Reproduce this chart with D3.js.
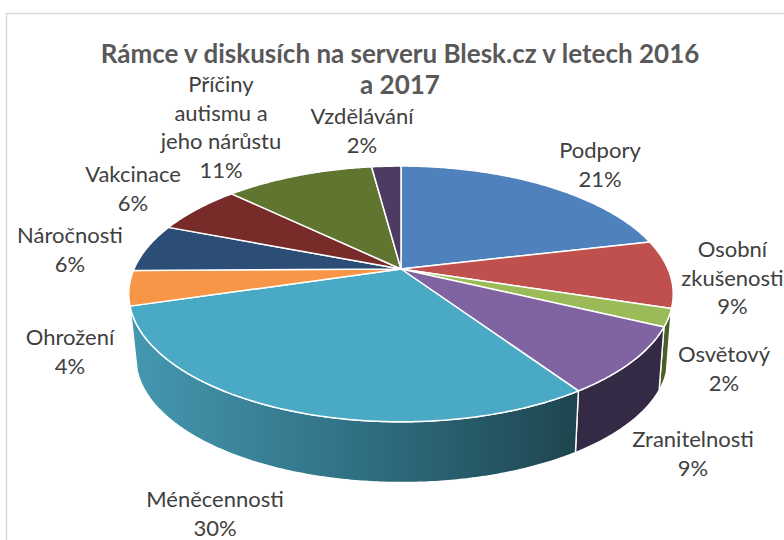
<!DOCTYPE html>
<html>
<head>
<meta charset="utf-8">
<script src="https://cdnjs.cloudflare.com/ajax/libs/d3/7.8.5/d3.min.js"></script>
<style>
html,body{margin:0;padding:0;background:#fff;overflow:hidden}
svg{display:block}
text{font-family:Lato,"Open Sans",sans-serif}
</style>
</head>
<body>
<svg id="chart" width="784" height="540"></svg>
<script>
// Data
const categories = ["Podpory","Osobní zkušenosti","Osvětový","Zranitelnosti","Méněcennosti","Ohrožení","Náročnosti","Vakcinace","Příčiny autismu a jeho nárůstu","Vzdělávání"];
const values = [21.3,8.6,2.2,8.5,29.8,4.4,6.1,6.3,10.7,2.1];
const titleLines = ["Rámce v diskusích na serveru Blesk.cz v letech 2016","a 2017"];

// Styles
const topColors = ["#4f81bd","#c0504d","#9bbb59","#8064a2","#4aa9c4","#f79646","#2c4d75","#772c2a","#5f7530","#4d3b62"];
const wallColors = [null,null,"#4a5f24","#352a45","url(#wallGrad)",null,null,null,null,null];

// Label layout: centre x, first baseline y, wrapped lines
const labelLayout = [
  {x:600,y:158,lines:["Podpory"]},
  {x:732.5,y:257,lines:["Osobní","zkušenosti"]},
  {x:724,y:362,lines:["Osvětový"]},
  {x:693,y:447,lines:["Zranitelnosti"]},
  {x:215,y:507,lines:["Méněcennosti"]},
  {x:70,y:345,lines:["Ohrožení"]},
  {x:70,y:243,lines:["Náročnosti"]},
  {x:133,y:182,lines:["Vakcinace"]},
  {x:221,y:92,lines:["Příčiny","autismu a","jeho nárůstu"]},
  {x:362,y:124,lines:["Vzdělávání"]}
];

const svg = d3.select("#chart");

// Chart frame
svg.append("path").attr("d","M6.5,541V13.5H785").attr("fill","none").attr("stroke","#d9d9d9").attr("stroke-width",1.6);

const defs = svg.append("defs");
const grad = defs.append("linearGradient").attr("id","wallGrad")
  .attr("gradientUnits","userSpaceOnUse").attr("x1",132).attr("x2",578).attr("y1",0).attr("y2",0);
grad.append("stop").attr("offset",0).attr("stop-color","#4498b0");
grad.append("stop").attr("offset",0.55).attr("stop-color","#2f6c7f");
grad.append("stop").attr("offset",1).attr("stop-color","#1e454f");

// Perspective projection of a tilted disc
const k = 0.195;
const topDisc = {cx:401,cy:269,R:267,B:123};
const lowDisc = {cx:402,cy:334,R:261,B:119.6};
const project = (disc,a)=>{
  const u=Math.sin(a), v=-Math.cos(a), w=1-k*v;
  return [disc.cx+disc.R*u/w, disc.cy+disc.B*v/w];
};
const arcPts = (disc,a0,a1)=>{
  const n=Math.max(2,Math.ceil(Math.abs(a1-a0)/0.01));
  return d3.range(n+1).map(i=>project(disc,a0+(a1-a0)*i/n));
};
const line = d3.line();

const arcs = d3.pie().sort(null).value(d=>d)(values);
const frontEnd = Math.PI+Math.acos(k);

// Side walls
svg.append("g").selectAll("path")
  .data(arcs.filter(d=>wallColors[d.index]))
  .join("path")
  .attr("d",d=>{
    const a0=d.startAngle, a1=Math.min(d.endAngle,frontEnd);
    return line(arcPts(topDisc,a0,a1).concat(arcPts(lowDisc,a1,a0)))+"Z";
  })
  .attr("fill",d=>wallColors[d.index])
  .attr("stroke","#fff").attr("stroke-width",1.4).attr("stroke-linejoin","round");

// Top faces
svg.append("g").selectAll("path")
  .data(arcs)
  .join("path")
  .attr("d",d=>line([[topDisc.cx,topDisc.cy]].concat(arcPts(topDisc,d.startAngle,d.endAngle)))+"Z")
  .attr("fill",d=>topColors[d.index])
  .attr("stroke","#fff").attr("stroke-width",1.5).attr("stroke-linejoin","round");

// Title
svg.append("g").selectAll("text").data(titleLines).join("text")
  .attr("x",400).attr("y",(d,i)=>63+i*31)
  .attr("text-anchor","middle").attr("font-size",26).attr("font-weight",700)
  .attr("fill","#595959").text(d=>d);

// Labels
const total = d3.sum(values);
const pct = d3.format(".0%");
const labels = svg.append("g").selectAll("text").data(labelLayout).join("text")
  .attr("text-anchor","middle").attr("font-size",22).attr("fill","#404040");
labels.each(function(d,i){
  const t=d3.select(this);
  d.lines.concat([pct(values[i]/total)]).forEach((s,j)=>{
    t.append("tspan").attr("x",d.x).attr("y",d.y+j*28.7).text(s);
  });
});
</script>
</body>
</html>
